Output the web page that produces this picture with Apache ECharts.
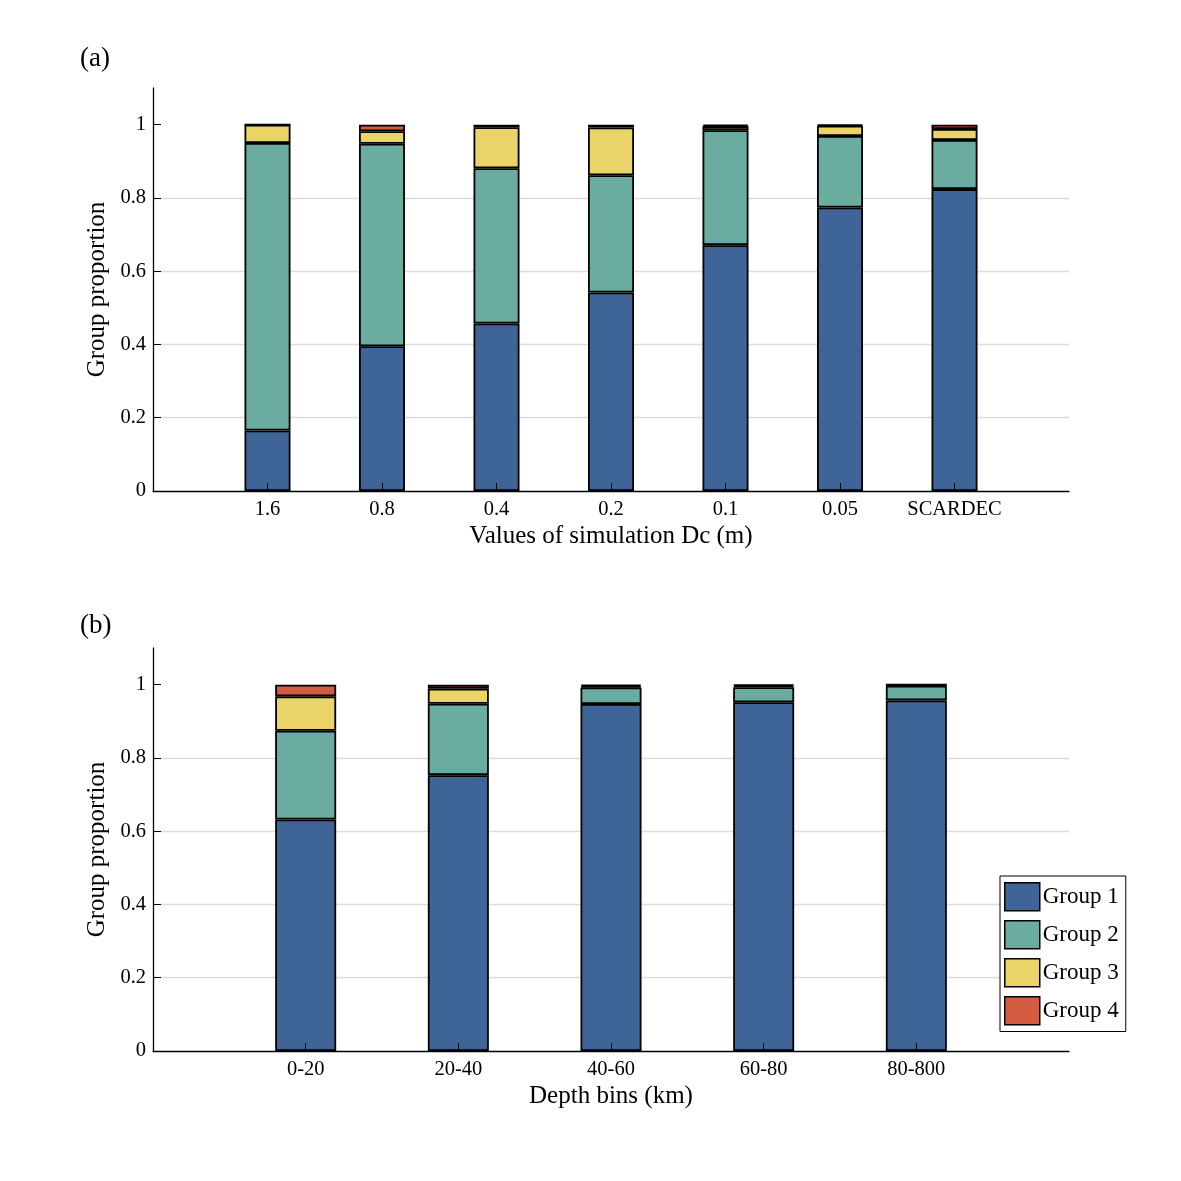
<!DOCTYPE html>
<html><head><meta charset="utf-8">
<script src="https://cdn.jsdelivr.net/npm/echarts@6/dist/echarts.min.js"></script>
<style>html,body{margin:0;padding:0;background:#fff}#c{width:1181px;height:1181px}</style>
</head><body><div id="c"></div>
<script>
// ---- data ----
const groupNames = ['Group 1', 'Group 2', 'Group 3', 'Group 4'];
const groupColors = ['#3f6498', '#6aac9f', '#ead46a', '#d35b40'];

const dcCategories = ['1.6', '0.8', '0.4', '0.2', '0.1', '0.05', 'SCARDEC'];
const dcGroup1 = [0.165, 0.395, 0.457, 0.542, 0.671, 0.774, 0.824];
const dcGroup2 = [0.785, 0.553, 0.424, 0.320, 0.314, 0.195, 0.134];
const dcGroup3 = [0.050, 0.034, 0.112, 0.130, 0.011, 0.028, 0.030];
const dcGroup4 = [0.000, 0.018, 0.007, 0.008, 0.004, 0.003, 0.012];

const depthCategories = ['0-20', '20-40', '40-60', '60-80', '80-800'];
const depthGroup1 = [0.632, 0.753, 0.947, 0.952, 0.957];
const depthGroup2 = [0.242, 0.195, 0.045, 0.041, 0.040];
const depthGroup3 = [0.094, 0.041, 0.004, 0.004, 0.003];
const depthGroup4 = [0.032, 0.011, 0.004, 0.003, 0.000];

const yTicks = [0, 0.2, 0.4, 0.6, 0.8, 1];
// ---------------

const FONT = 'Liberation Serif';
const dcSeriesVals = [dcGroup1, dcGroup2, dcGroup3, dcGroup4];
const depthSeriesVals = [depthGroup1, depthGroup2, depthGroup3, depthGroup4];

// pad with an empty slot at each end so categories sit at 1..n on a 0..n+1 axis
function padded(arr) { return [''].concat(arr, ['']); }
function paddedVals(arr) { return [null].concat(arr, [null]); }

function xAxisFor(gridIndex, cats, name) {
  const n = cats.length + 2;
  const inner = (i) => i > 0 && i < n - 1;
  return {
    type: 'category', gridIndex, data: padded(cats), boundaryGap: false, z: 10,
    name, nameLocation: 'middle', nameGap: 33,
    nameTextStyle: { fontFamily: FONT, fontSize: 25, color: '#000' },
    axisLine: { show: true, lineStyle: { color: '#000', width: 1.3 } },
    axisTick: { show: true, inside: true, length: 8, interval: inner, lineStyle: { color: '#000', width: 1 } },
    axisLabel: { interval: inner, margin: 8, fontFamily: FONT, fontSize: 20.5, color: '#000' },
    splitLine: { show: false }
  };
}
function yAxisFor(gridIndex) {
  return {
    type: 'value', gridIndex, min: 0, max: 1.1, interval: 0.2,
    name: 'Group proportion', nameLocation: 'middle', nameGap: 41,
    nameTextStyle: { fontFamily: FONT, fontSize: 25, color: '#000' },
    axisLine: { show: true, lineStyle: { color: '#000', width: 1.3 } },
    axisTick: { show: true, inside: true, length: 8, customValues: yTicks, lineStyle: { color: '#000', width: 1 } },
    axisLabel: { customValues: yTicks, margin: 7, fontFamily: FONT, fontSize: 20.5, color: '#000',
      formatter: v => String(Math.round(v * 10) / 10) },
    splitLine: { show: true, showMinLine: false, showMaxLine: false, lineStyle: { color: '#dcdcdc', width: 1.3 } }
  };
}

const series = [];
dcSeriesVals.forEach((vals, gi) => {
  series.push({
    type: 'bar', name: groupNames[gi], xAxisIndex: 0, yAxisIndex: 0, stack: 'dc',
    barWidth: 46,
    itemStyle: { color: groupColors[gi], borderColor: '#000', borderWidth: 1.8 },
    data: paddedVals(vals)
  });
});
depthSeriesVals.forEach((vals, gi) => {
  series.push({
    type: 'bar', name: groupNames[gi], xAxisIndex: 1, yAxisIndex: 1, stack: 'depth',
    barWidth: 61,
    itemStyle: { color: groupColors[gi], borderColor: '#000', borderWidth: 1.8 },
    data: paddedVals(vals)
  });
});

const chart = echarts.init(document.getElementById('c'), null, { renderer: 'canvas' });
chart.setOption({
  animation: false,
  backgroundColor: '#fff',
  title: [
    { text: '(a)', left: 75, top: 40, textStyle: { fontFamily: FONT, fontSize: 27, fontWeight: 'normal', color: '#000' } },
    { text: '(b)', left: 75, top: 607, textStyle: { fontFamily: FONT, fontSize: 27, fontWeight: 'normal', color: '#000' } }
  ],
  grid: [
    { left: 153, top: 88, right: 112, height: 403 },
    { left: 153, top: 648, right: 112, height: 403 }
  ],
  xAxis: [xAxisFor(0, dcCategories, 'Values of simulation Dc (m)'), xAxisFor(1, depthCategories, 'Depth bins (km)')],
  yAxis: [yAxisFor(0), yAxisFor(1)],
  legend: {
    data: groupNames, orient: 'vertical', left: 1000, top: 876,
    itemWidth: 35, itemHeight: 28, itemGap: 8.5, icon: 'rect',
    padding: [6, 7, 6, 4],
    backgroundColor: '#fff', borderColor: '#000', borderWidth: 1,
    textStyle: { fontFamily: FONT, fontSize: 23, color: '#000', padding: [0, 0, 0, -2] },
    itemStyle: { borderColor: '#000', borderWidth: 1.5 }
  },
  series
});
</script></body></html>
